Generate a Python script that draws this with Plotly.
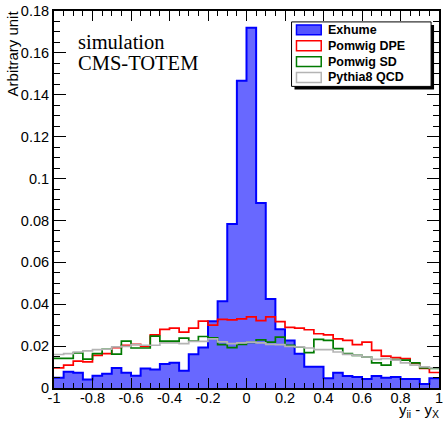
import numpy as np
import plotly.graph_objects as go

# ---- data (40 bins of width 0.05 from -1 to 1) ----
bin_lo = -1.0
bin_w = 0.05
exhume = [0.0049, 0.0077, 0.0073, 0.0041, 0.0058, 0.0068, 0.0096, 0.0073, 0.0058, 0.0093,
          0.0088, 0.0114, 0.0120, 0.0082, 0.0161, 0.0193, 0.0319, 0.0414, 0.0783, 0.1467,
          0.1720, 0.0883, 0.0425, 0.0280, 0.0227, 0.0164, 0.0101, 0.0101, 0.0046, 0.0073,
          0.0057, 0.0052, 0.0043, 0.0057, 0.0049, 0.0052, 0.0043, 0.0043, 0.0019, 0.0047]
pomwig_dpe = [0.0096, 0.0109, 0.0128, 0.0125, 0.0156, 0.0164, 0.0193, 0.0204, 0.0208, 0.0199,
              0.0254, 0.0280, 0.0286, 0.0267, 0.0286, 0.0319, 0.0300, 0.0328, 0.0325, 0.0330,
              0.0340, 0.0322, 0.0340, 0.0317, 0.0289, 0.0286, 0.0278, 0.0259, 0.0254, 0.0235,
              0.0227, 0.0207, 0.0219, 0.0180, 0.0152, 0.0145, 0.0140, 0.0117, 0.0093, 0.0074]
pomwig_sd = [0.0141, 0.0141, 0.0167, 0.0138, 0.0164, 0.0185, 0.0162, 0.0224, 0.0191, 0.0191,
             0.0248, 0.0224, 0.0224, 0.0238, 0.0224, 0.0246, 0.0239, 0.0207, 0.0193, 0.0208,
             0.0218, 0.0230, 0.0219, 0.0243, 0.0204, 0.0196, 0.0169, 0.0232, 0.0227, 0.0188,
             0.0164, 0.0156, 0.0148, 0.0120, 0.0109, 0.0136, 0.0133, 0.0120, 0.0096, 0.0093]
pythia8_qcd = [0.0160, 0.0164, 0.0172, 0.0177, 0.0183, 0.0185, 0.0196, 0.0199, 0.0207, 0.0204,
               0.0204, 0.0215, 0.0215, 0.0212, 0.0223, 0.0223, 0.0235, 0.0220, 0.0212, 0.0215,
               0.0219, 0.0215, 0.0208, 0.0207, 0.0199, 0.0196, 0.0191, 0.0183, 0.0183, 0.0172,
               0.0161, 0.0156, 0.0148, 0.0137, 0.0140, 0.0133, 0.0120, 0.0109, 0.0101, 0.0096]

x_tickvals = [-1, -0.8, -0.6, -0.4, -0.2, 0, 0.2, 0.4, 0.6, 0.8, 1]
x_ticktext = ["-1", "-0.8", "-0.6", "-0.4", "-0.2", "0", "0.2", "0.4", "0.6", "0.8", "1"]
y_tickvals = [0, 0.02, 0.04, 0.06, 0.08, 0.1, 0.12, 0.14, 0.16, 0.18]
y_ticktext = ["0", "0.02", "0.04", "0.06", "0.08", "0.1", "0.12", "0.14", "0.16", "0.18"]

legend_names = ["Exhume", "Pomwig DPE", "Pomwig SD", "Pythia8 QCD"]

n = len(exhume)
edges = np.round(bin_lo + bin_w * np.arange(n + 1), 4)
centers = edges[:-1] + bin_w / 2

BLUE = "#0000ff"
RED = "#ff0000"
GREEN = "#007a00"
GRAY = "#b4b4b4"
FONT = "Liberation Sans, Arial, sans-serif"

fig = go.Figure()

fig.add_trace(go.Bar(
    x=centers, y=exhume, width=bin_w,
    marker=dict(color="rgb(60,60,255)", line=dict(width=0),
                pattern=dict(shape=".", fgcolor="rgb(160,160,255)", fgopacity=1, size=2, solidity=0.5)),
    showlegend=False, hoverinfo="skip"))


def step(vals, color, width):
    ys = list(vals) + [vals[-1]]
    fig.add_trace(go.Scatter(x=edges, y=ys, mode="lines", line=dict(color=color, width=width, shape="hv"),
                             showlegend=False, hoverinfo="skip"))


step(exhume, BLUE, 2)
step(pomwig_dpe, RED, 1.7)
step(pomwig_sd, GREEN, 1.7)
step(pythia8_qcd, GRAY, 1.7)

# ---- layout geometry ----
W, H = 446, 422
L, R, T, B = 54, 3, 8, 34
pw, ph = W - L - R, H - T - B


def px(x):
    return (x - L) / pw


def py(y):
    return (H - B - y) / ph


fig.update_layout(
    width=W, height=H, margin=dict(l=L, r=R, t=T, b=B),
    paper_bgcolor="white", plot_bgcolor="white", bargap=0, showlegend=False,
    font=dict(family=FONT, size=14.5, color="black"),
    xaxis=dict(range=[-1, 1], tickmode="array", tickvals=x_tickvals, ticktext=x_ticktext,
               ticks="inside", ticklen=10, tickwidth=1, tickcolor="black",
               showline=True, linewidth=2, linecolor="black", mirror="allticks",
               showgrid=False, zeroline=False, ticklabelstandoff=-4,
               minor=dict(ticks="inside", ticklen=5, dtick=0.05, tick0=-1, tickcolor="black", showgrid=False),
               tickfont=dict(family=FONT, size=14.5)),
    yaxis=dict(range=[0, 0.18], tickmode="array", tickvals=y_tickvals, ticktext=y_ticktext,
               ticks="inside", ticklen=12, tickwidth=1, tickcolor="black",
               showline=True, linewidth=2, linecolor="black", mirror="allticks",
               showgrid=False, zeroline=False,
               minor=dict(ticks="inside", ticklen=6, dtick=0.005, tick0=0, tickcolor="black", showgrid=False),
               tickfont=dict(family=FONT, size=14.5)),
)

shapes = []
# legend shadow and box
shapes.append(dict(type="rect", xref="paper", yref="paper", x0=px(297), x1=px(438), y0=py(87), y1=py(22),
                   fillcolor="black", line=dict(width=0), layer="above"))
shapes.append(dict(type="rect", xref="paper", yref="paper", x0=px(294), x1=px(435), y0=py(84), y1=py(19),
                   fillcolor="white", line=dict(color="black", width=1), layer="above"))
sym_fill = ["rgb(85,85,255)", "white", "white", "white"]
sym_line = [BLUE, RED, GREEN, GRAY]
annotations = []
for i, name in enumerate(legend_names):
    cy = 27 + 16 * i
    shapes.append(dict(type="rect", xref="paper", yref="paper", x0=px(299), x1=px(324),
                       y0=py(cy + 5), y1=py(cy - 5), fillcolor=sym_fill[i],
                       line=dict(color=sym_line[i], width=1.5), layer="above"))
    annotations.append(dict(xref="paper", yref="paper", x=px(329), y=py(cy), text="<b>%s</b>" % name,
                            showarrow=False, xanchor="left", yanchor="middle",
                            font=dict(family=FONT, size=12.5, color="black")))

annotations.append(dict(xref="paper", yref="paper", x=px(76), y=py(39), text="simulation", showarrow=False,
                        xanchor="left", yanchor="middle",
                        font=dict(family="Liberation Serif, Times New Roman, serif", size=20.5, color="black")))
annotations.append(dict(xref="paper", yref="paper", x=px(76), y=py(60), text="CMS-TOTEM", showarrow=False,
                        xanchor="left", yanchor="middle",
                        font=dict(family="Liberation Serif, Times New Roman, serif", size=20.5, color="black")))
annotations.append(dict(xref="paper", yref="paper", x=px(445), y=py(422), text="y<sub>ii</sub> - y<sub>X</sub>",
                        showarrow=False, xanchor="right", yanchor="bottom",
                        font=dict(family=FONT, size=15, color="black")))
annotations.append(dict(xref="paper", yref="paper", x=px(12), y=py(5), text="Arbitrary unit",
                        showarrow=False, textangle=-90, xanchor="center", yanchor="top",
                        font=dict(family=FONT, size=15, color="black")))

fig.update_layout(shapes=shapes, annotations=annotations)
fig.write_html("out.html")
